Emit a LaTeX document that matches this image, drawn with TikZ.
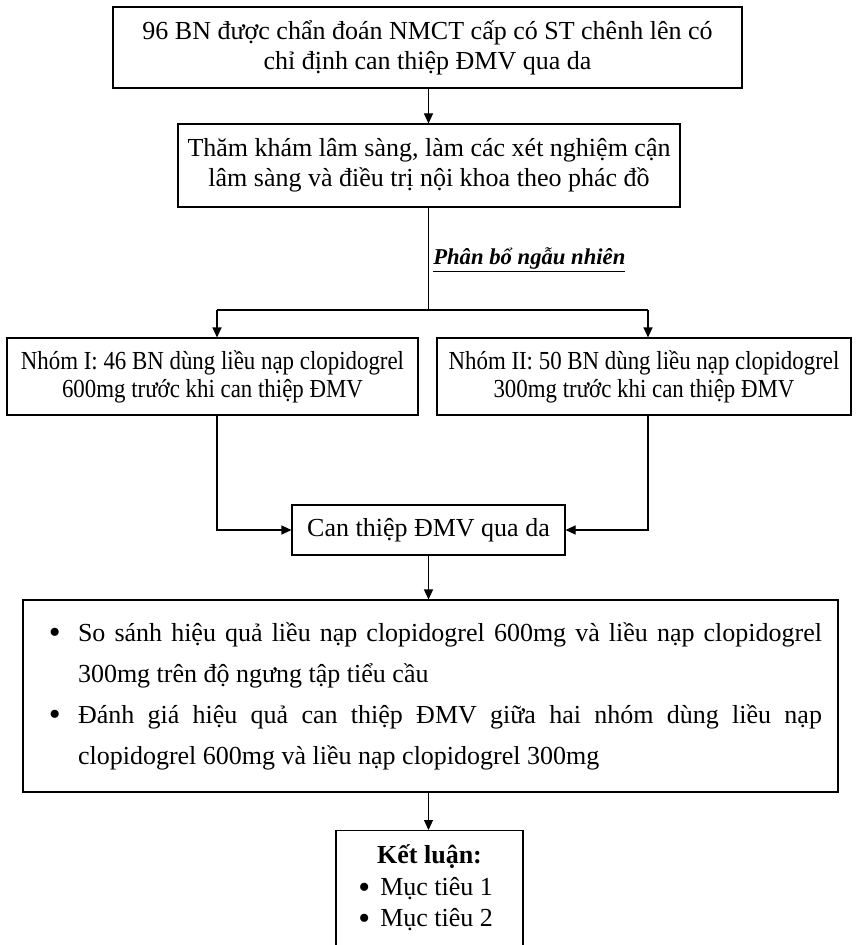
\documentclass[tikz,border=0pt]{standalone}
\usepackage{fontspec}
\usepackage{graphicx}
\setmainfont{Liberation Serif}
\newfontfamily\condfont[FakeStretch=0.88]{Liberation Serif}
\usetikzlibrary{arrows.meta}
\newcommand{\bigbul}{\raisebox{-0.1em}{\scalebox{1.3}{\textbullet}}}
\begin{document}
\begin{tikzpicture}[x=0.75pt,y=-0.75pt,
  box/.style={draw, line width=0.8pt, inner sep=0pt, align=center, font=\fontsize{19.5pt}{22.5pt}\selectfont},
  arr/.style={line width=0.8pt, -{Triangle[length=7.5pt,width=6.75pt]}},
  ln/.style={line width=0.8pt},
  txt/.style={inner sep=0pt, font=\fontsize{19.5pt}{22.5pt}\selectfont}]
\useasboundingbox (0,0) rectangle (856,945);
\fill[white] (0,0) rectangle (856,945);
\node[box, minimum width=471.75pt, minimum height=60.75pt] (b1) at (427.5,47.5)
  {96 BN được chẩn đoán NMCT cấp có ST chênh lên có\\chỉ định can thiệp ĐMV qua da};
\node[box, minimum width=376.5pt, minimum height=62.25pt] (b2) at (429,165.5)
  {Thăm khám lâm sàng, làm các xét nghiệm cận\\lâm sàng và điều trị nội khoa theo phác đồ};
\node[box, minimum width=308.25pt, minimum height=57.75pt, font=\condfont\fontsize{19.5pt}{21pt}\selectfont] (g1) at (212.5,376.5)
  {Nhóm I: 46 BN dùng liều nạp clopidogrel\\600mg trước khi can thiệp ĐMV};
\node[box, minimum width=310.5pt, minimum height=57.75pt, font=\condfont\fontsize{19.5pt}{21pt}\selectfont] (g2) at (644,376.5)
  {Nhóm II: 50 BN dùng liều nạp clopidogrel\\300mg trước khi can thiệp ĐMV};
\node[box, minimum width=204.75pt, minimum height=37.5pt] (b3) at (428.5,530)
  {Can thiệp ĐMV qua da};
\node[draw, line width=0.8pt, minimum width=611.25pt, minimum height=144pt, inner xsep=12pt, inner ysep=0pt,
  text width=587.25pt, align=justify, font=\fontsize{19.5pt}{30.75pt}\selectfont] (b4) at (430.5,696)
  {\parskip=0pt\hangindent=29.25pt\hangafter=0\makebox[0pt][r]{\bigbul\hspace{13pt}}So sánh hiệu quả liều nạp clopidogrel 600mg và liều nạp clopidogrel\linebreak 300mg trên độ ngưng tập tiểu cầu\par
   \hangindent=29.25pt\hangafter=0\makebox[0pt][r]{\bigbul\hspace{13pt}}Đánh giá hiệu quả can thiệp ĐMV giữa hai nhóm dùng liều nạp\linebreak clopidogrel 600mg và liều nạp clopidogrel 300mg\par};
\node[draw, line width=0.8pt, minimum width=140.25pt, minimum height=105pt, anchor=north] (b5) at (429.5,830) {};
\node[txt, font=\bfseries\fontsize{19.5pt}{22.5pt}\selectfont] (kl) at (429.5,857) {Kết luận:};
\node[txt, anchor=west] (m1) at (358,889) {\makebox[16.5pt][l]{\bigbul}Mục tiêu 1};
\node[txt, anchor=west] (m2) at (358,920) {\makebox[16.5pt][l]{\bigbul}Mục tiêu 2};
\node[txt, anchor=west, font=\bfseries\itshape\fontsize{17pt}{20pt}\selectfont] (lab) at (433,260) {\underline{Phân bổ ngẫu nhiên}};
\coordinate (sp) at (429,310);
\coordinate (spl) at (217,310);
\coordinate (spr) at (648,310);
\draw[arr] (b1.south -| b3.south) -- (b3.south |- b2.north);
\draw[ln] (b2.south -| b3.south) -- (b3.south |- sp);
\draw[ln] (spl) -- (spr);
\draw[arr] (spl) -- (spl |- g1.north);
\draw[arr] (spr) -- (spr |- g2.north);
\draw[arr] (spl |- g1.south) -- (spl |- b3.west) -- (b3.west);
\draw[arr] (spr |- g2.south) -- (spr |- b3.east) -- (b3.east);
\draw[arr] (b3.south) -- (b3.south |- b4.north);
\draw[arr] (b3.south |- b4.south) -- (b3.south |- b5.north);
\end{tikzpicture}
\end{document}
